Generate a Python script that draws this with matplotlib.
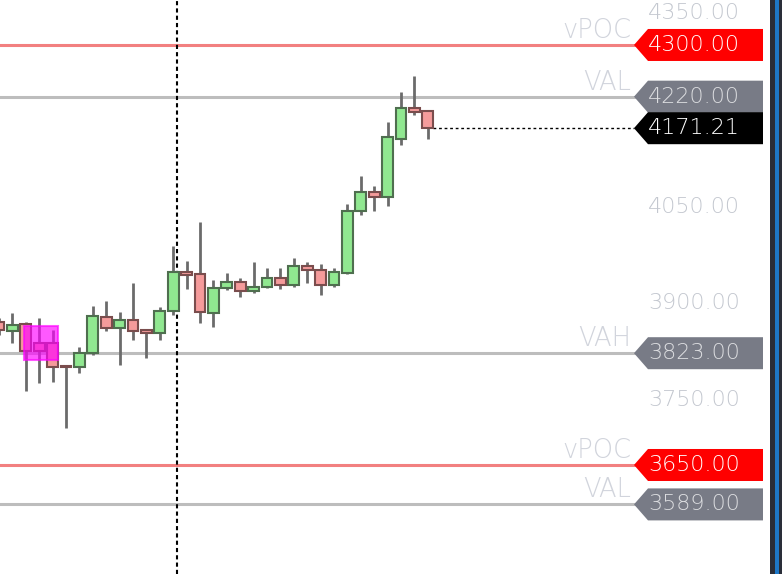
import numpy as np
import matplotlib
matplotlib.use("Agg")
import matplotlib.pyplot as plt
from matplotlib.patches import Polygon, Rectangle

# candle data
opens = [3871, 3857, 3868, 3839, 3839, 3803, 3802, 3823, 3879, 3862, 3874, 3859, 3854, 3888, 3949, 3946, 3885,
         3924, 3933, 3919, 3926, 3939, 3929, 3958, 3952, 3929, 3947, 4043, 4073, 4065, 4155, 4203, 4198]
highs = [3878, 3885, 3871, 3878, 3859, 3805, 3833, 3896, 3904, 3887, 3932, 3860, 3895, 3989, 3966, 4026, 3936,
         3947, 3939, 3964, 3955, 3955, 3970, 3964, 3961, 3955, 4054, 4097, 4082, 4181, 4227, 4252, 4199]
lows = [3851, 3839, 3765, 3777, 3779, 3707, 3792, 3820, 3857, 3805, 3844, 3816, 3844, 3882, 3922, 3870, 3864,
        3921, 3910, 3916, 3924, 3922, 3926, 3932, 3913, 3926, 3945, 4037, 4043, 4051, 4145, 4192, 4155]
closes = [3859, 3867, 3826, 3826, 3802, 3801, 3823, 3881, 3862, 3874, 3857, 3854, 3888, 3949, 3944, 3887, 3924,
          3933, 3919, 3926, 3939, 3929, 3958, 3952, 3929, 3949, 4043, 4073, 4065, 4158, 4203, 4196, 4171.21]

# volume profile levels
level_names = ["vPOC", "VAL", "VAH", "vPOC", "VAL"]
level_prices = [4300.00, 4220.00, 3823.00, 3650.00, 3589.00]
level_kinds = ["poc", "va", "va", "poc", "va"]

# price scale labels that are not covered by level boxes
tick_prices = [4350, 4050, 3900, 3750]
last_price = 4171.21
session_break = 13.3
zone = (1.87, 4.40, 3812.5, 3865.1)  # x0, x1, y0, y1

W, H = 782, 574
fig = plt.figure(figsize=(W / 100, H / 100), dpi=100)
fig.patch.set_facecolor("white")
ax = fig.add_axes([0, 0, 1, 1])
ax.set_axis_off()
ax.set_xlim(1 / 13.4, 783 / 13.4)
ax.set_ylim(3481.3, 4369.6)

ytr = ax.get_yaxis_transform()
px = lambda v: v / W
half = 16 * 1.5476  # half label height in price units

font = dict(family="DejaVu Sans", fontsize=16, fontweight="light")
name_font = dict(family="DejaVu Sans", fontsize=18.5, fontweight="light")

# price scale labels
for p in tick_prices:
    ax.text(px(648), p, f"{p:.2f}", transform=ytr, ha="left", va="center",
            color="#c3c7cf", zorder=2, **font)

# level lines, names and price boxes
for name, p, kind in zip(level_names, level_prices, level_kinds):
    lc = "#f28080" if kind == "poc" else "#bdbdbd"
    bc = "#ff0000" if kind == "poc" else "#787b86"
    tc = "white" if kind == "poc" else "#dcdde0"
    ax.plot([0, px(634)], [p, p], transform=ytr, color=lc, lw=2.2, zorder=1)
    ax.text(px(631), p + 3, name, transform=ytr, ha="right", va="bottom",
            color="#d1d4dc", zorder=3, **name_font)
    poly = Polygon([(px(634), p), (px(648), p + half), (px(763), p + half),
                    (px(763), p - half), (px(648), p - half)],
                   closed=True, transform=ytr, facecolor=bc, edgecolor="none", zorder=4)
    ax.add_patch(poly)
    ax.text(px(648), p, f"{p:.2f}", transform=ytr, ha="left", va="center",
            color=tc, zorder=5, **font)

# last price
ax.plot([px(433), px(634)], [last_price, last_price], transform=ytr, color="black",
        lw=1, ls=(0, (2, 2)), zorder=3)
poly = Polygon([(px(634), last_price), (px(648), last_price + half), (px(763), last_price + half),
                (px(763), last_price - half), (px(648), last_price - half)],
               closed=True, transform=ytr, facecolor="black", edgecolor="none", zorder=6)
ax.add_patch(poly)
ax.text(px(648), last_price, f"{last_price:.2f}", transform=ytr, ha="left", va="center",
        color="white", zorder=7, **font)

# session separator
ax.axvline(session_break, color="black", lw=1.5, ls=(0, (2, 1.5)), zorder=3)

# candles
x = np.arange(len(opens))
o = np.array(opens); c = np.array(closes)
up = c >= o
bottoms = np.minimum(o, c)
heights = np.maximum(np.abs(c - o), 2.0)
ax.vlines(x, lows, highs, color="#6b6b6b", lw=2, zorder=4)
ax.bar(x[up], heights[up], bottom=bottoms[up], width=0.8, color="#90e890",
       edgecolor="#4f6f4f", linewidth=1.5, zorder=5)
ax.bar(x[~up], heights[~up], bottom=bottoms[~up], width=0.8, color="#f59b9b",
       edgecolor="#7a4d4d", linewidth=1.5, zorder=5)

# highlighted zone
ax.add_patch(Rectangle((zone[0], zone[2]), zone[1] - zone[0], zone[3] - zone[2],
                       facecolor="#ff00ff", alpha=0.65, edgecolor="#ff00ff", lw=1.5, zorder=6))

# right border strip
fig.add_artist(Rectangle((770 / W, 0), 12 / W, 1, transform=fig.transFigure,
                         facecolor="#2a2e39", edgecolor="none"))
fig.add_artist(Rectangle((775 / W, 0), 4 / W, 1, transform=fig.transFigure,
                         facecolor="#1e78c8", edgecolor="none"))

fig.savefig("out.png", dpi=100, facecolor="white")
